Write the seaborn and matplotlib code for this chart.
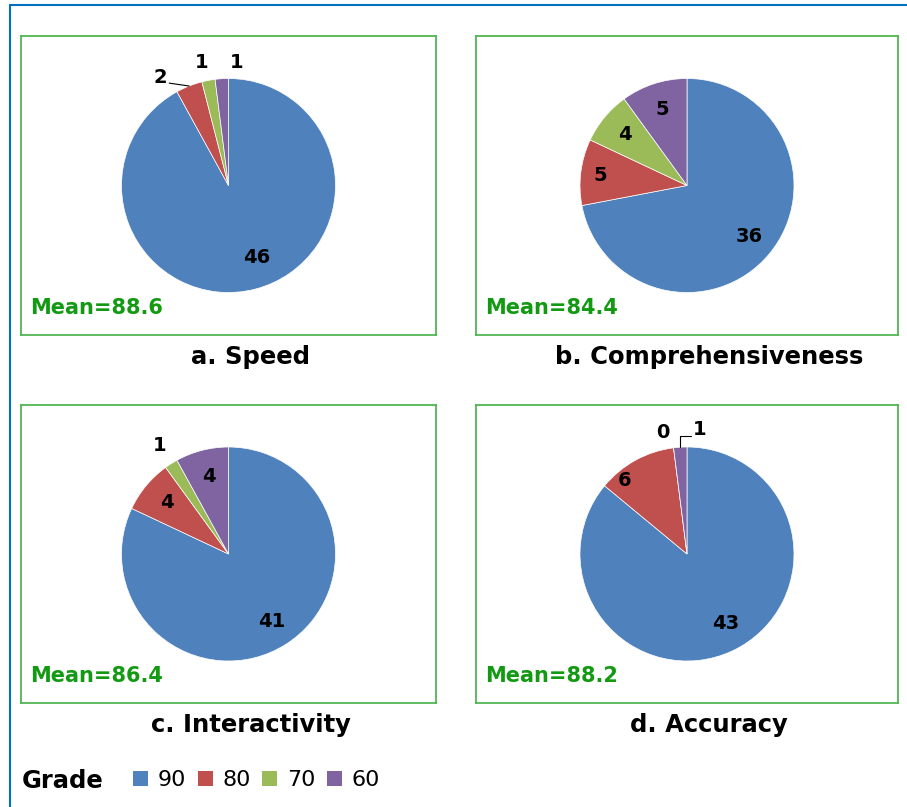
import numpy as np
import matplotlib.pyplot as plt
import seaborn as sns
from matplotlib.patches import Patch
from matplotlib.lines import Line2D

grades = ['90', '80', '70', '60']
speed = [46, 2, 1, 1]
comprehensiveness = [36, 5, 4, 5]
interactivity = [41, 4, 1, 4]
accuracy = [43, 6, 0, 1]
titles = ['a. Speed', 'b. Comprehensiveness', 'c. Interactivity', 'd. Accuracy']
means = [88.6, 84.4, 86.4, 88.2]

sns.set_theme(style='white')
plt.rcParams['font.family'] = ['DejaVu Sans']
plt.rcParams['text.color'] = 'black'
colors = sns.color_palette(['#4F81BD', '#C0504D', '#9BBB59', '#8064A2'])

W, H = 907, 807
fig = plt.figure(figsize=(W / 100, H / 100), dpi=100)

# green boxes in pixels: left, top, right, bottom
boxes = [(21, 36, 436, 335), (476, 36, 898, 335),
         (21, 405, 436, 703), (476, 405, 898, 703)]
R = 107  # pie radius in px

# label nudges in px (dx, dy up), keyed by (chart, wedge)
nudge = {(0, 0): (8, 6), (0, 1): (-21, -11), (0, 2): (-3, -3), (0, 3): (16, -5),
         (1, 1): (-7, 0), (3, 0): (4, 3), (3, 1): (-24, 3), (3, 2): (-8, -6),
         (3, 3): (21, -4)}
leaders = {(0, 1): 'right', (3, 3): 'left'}

data = [speed, comprehensiveness, interactivity, accuracy]
for k, vals in enumerate(data):
    l, t, r, b = boxes[k]
    ax = fig.add_axes([l / W, 1 - b / H, (r - l) / W, (b - t) / H])
    wedges, _ = ax.pie(vals, colors=colors, startangle=90, counterclock=False,
                       wedgeprops=dict(edgecolor='white', linewidth=0.5))
    ax.set_aspect('auto')
    hw = (r - l) / 2 / R
    hh = (b - t) / 2 / R
    ax.set_xlim(-hw, hw)
    ax.set_ylim(-hh, hh)
    ax.set_frame_on(True)
    for s in ax.spines.values():
        s.set_visible(True)
        s.set_color('#52b552')
        s.set_linewidth(1.3)

    total = sum(vals)
    for i, (w, v) in enumerate(zip(wedges, vals)):
        ang = np.deg2rad((w.theta1 + w.theta2) / 2)
        rr = 1.2 if v / total < 0.05 else 0.75
        dx, dy = nudge.get((k, i), (0, 0))
        x = rr * np.cos(ang) + dx / R
        y = rr * np.sin(ang) + dy / R
        ax.text(x, y, str(v), ha='center', va='center', fontsize=14,
                fontweight='heavy', color='black', clip_on=False)
        side = leaders.get((k, i))
        ex, ey = np.cos(ang), np.sin(ang)
        if side == 'right':
            ax.plot([x + 9 / R, ex], [y - 6 / R, ey], color='black', lw=0.8)
        elif side == 'left':
            ax.plot([x - 9 / R, ex, ex], [y - 6 / R, y - 6 / R, ey],
                    color='black', lw=0.8)

    ax.text(9 / (r - l), 21 / (b - t), f'Mean={means[k]}', transform=ax.transAxes,
            ha='left', va='baseline', fontsize=15, fontweight='bold', color='#139a13')
    fig.text(((l + r) / 2 + 22) / W, 1 - (b + 22) / H, titles[k], ha='center',
             va='center', fontsize=17.5, fontweight='bold', color='black')

# legend
fig.text(22 / W, 1 - 781 / H, 'Grade', ha='left', va='center', fontsize=17.5,
         fontweight='bold', color='black')
handles = [Patch(facecolor=c, edgecolor='none') for c in colors]
fig.legend(handles, grades, ncol=4, loc='center left',
           bbox_to_anchor=(133 / W, 1 - 780 / H), frameon=False, fontsize=16,
           handlelength=0.68, handleheight=0.68, handletextpad=0.45,
           columnspacing=0.5, borderpad=0, borderaxespad=0, labelcolor='black')

# outer blue frame (left and top)
fig.add_artist(Line2D([10 / W, 10 / W], [0, 1 - 5 / H], color='#0070C0', lw=1.5,
                      transform=fig.transFigure))
fig.add_artist(Line2D([10 / W, 1], [1 - 5 / H, 1 - 5 / H], color='#0070C0', lw=1.5,
                      transform=fig.transFigure))

fig.savefig('out.png', dpi=100)
